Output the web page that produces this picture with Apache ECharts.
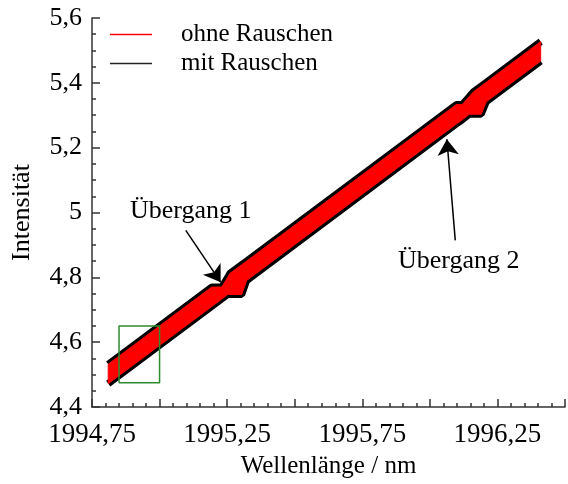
<!DOCTYPE html>
<html>
<head>
<meta charset="utf-8">
<script src="https://cdn.jsdelivr.net/npm/echarts@6/dist/echarts.min.js"></script>
<style>
  html, body { margin: 0; padding: 0; background: #fff; }
  #chart { width: 568px; height: 484px; }
</style>
</head>
<body>
<div id="chart"></div>
<script>
// Wavelength (nm) at the corners of the signal envelope
const wavelength = [1994.81, 1995.193, 1995.230, 1995.252, 1995.260, 1995.304, 1995.322,
                    1996.098, 1996.120, 1996.146, 1996.161, 1996.190, 1996.209, 1996.41];
// Upper and lower envelope of the signal (intensity)
const upperEdge = [4.532, 4.770, 4.770, 4.800, 4.812, 4.839, 4.850,
                   5.333, 5.333, 5.358, 5.372, 5.390, 5.402, 5.527];
const lowerEdge = [4.472, 4.710, 4.733, 4.747, 4.747, 4.747, 4.790,
                   5.273, 5.286, 5.303, 5.303, 5.303, 5.342, 5.467];

// Highlighted region (green frame)
const boxWavelength = [1994.85, 1995.0, 1995.0, 1994.85, 1994.85];
const boxIntensity  = [4.475, 4.475, 4.65, 4.65, 4.475];

// Annotations: text and arrow start/end in data units
const transitionNames = ['Übergang 1', 'Übergang 2'];
const arrowFrom = [[1995.097, 4.945], [1996.094, 4.914]];
const arrowTo   = [[1995.226, 4.785], [1996.063, 5.226]];

// Labelled x ticks
const xLabelValues = [1994.75, 1995.25, 1995.75, 1996.25];

const seriesNames = ['ohne Rauschen', 'mit Rauschen'];

const FONT = 'Liberation Serif';
const AXIS_COLOR = '#333';

const lowerPts = wavelength.map((x, i) => [x, lowerEdge[i]]);
const upperPts = wavelength.map((x, i) => [x, upperEdge[i]]);
const boxPts = boxWavelength.map((x, i) => [x, boxIntensity[i]]);

const chart = echarts.init(document.getElementById('chart'), null, { renderer: 'canvas' });

const axisCommon = {
  type: 'value',
  axisLine: { show: true, lineStyle: { color: AXIS_COLOR, width: 1.5 } },
  axisTick: { show: true, inside: true, length: 8, lineStyle: { color: AXIS_COLOR, width: 1.5 } },
  minorTick: { show: true, length: 4, lineStyle: { color: AXIS_COLOR, width: 1.5 } },
  splitLine: { show: false },
  nameLocation: 'middle',
  nameTextStyle: { fontFamily: FONT, fontSize: 25, color: '#000' }
};

// Filled envelope between the upper and lower edge
function renderBand(params, api) {
  const pts = upperPts.map(p => api.coord(p))
    .concat(lowerPts.slice().reverse().map(p => api.coord(p)));
  return {
    type: 'polygon',
    shape: { points: pts },
    style: { fill: '#ff0000', stroke: '#ff0000', lineWidth: 1 }
  };
}

chart.setOption({
  animation: false,
  backgroundColor: '#fff',
  grid: { left: 92, right: 1, top: 18, bottom: 74 },
  legend: {
    data: seriesNames.map(n => ({ name: n })),
    orient: 'vertical',
    left: 105,
    top: 17,
    itemWidth: 42,
    itemHeight: 1.5,
    itemGap: 4,
    icon: 'rect',
    textStyle: { fontFamily: FONT, fontSize: 25, color: '#000', padding: [0, 0, 0, 24] }
  },
  xAxis: Object.assign({}, axisCommon, {
    min: 1994.75,
    max: 1996.5,
    interval: 0.25,
    minorTick: Object.assign({}, axisCommon.minorTick, { splitNumber: 5 }),
    name: 'Wellenlänge / nm',
    nameGap: 47,
    axisLabel: {
      fontFamily: FONT, fontSize: 27, color: '#000', margin: 14,
      formatter: v => xLabelValues.some(t => Math.abs(t - v) < 1e-6) ? v.toFixed(2).replace('.', ',') : ''
    }
  }),
  yAxis: Object.assign({}, axisCommon, {
    min: 4.4,
    max: 5.6,
    interval: 0.2,
    minorTick: Object.assign({}, axisCommon.minorTick, { splitNumber: 4 }),
    name: 'Intensität',
    nameGap: 57,
    nameTextStyle: { fontFamily: FONT, fontSize: 26, color: '#000' },
    axisLabel: {
      fontFamily: FONT, fontSize: 26, color: '#000', margin: 10,
      formatter: v => String(Math.round(v * 10) / 10).replace('.', ',')
    }
  }),
  series: [
    {
      name: 'mit Rauschen', type: 'line', data: lowerPts, symbol: 'none',
      lineStyle: { color: '#000', width: 7 }, itemStyle: { color: '#222' }, z: 2
    },
    {
      name: 'mit Rauschen', type: 'line', data: upperPts, symbol: 'none',
      lineStyle: { color: '#000', width: 7 }, itemStyle: { color: '#222' }, z: 2
    },
    {
      name: 'ohne Rauschen', type: 'custom', data: [lowerPts[0]],
      itemStyle: { color: '#ff0000' },
      renderItem: renderBand, z: 3
    },
    {
      name: 'frame', type: 'line', data: boxPts, symbol: 'none',
      lineStyle: { color: '#2e8b2e', width: 1.5 }, z: 5,
      markLine: {
        silent: true,
        symbol: ['none', 'arrow'],
        symbolSize: 16,
        label: { show: false },
        lineStyle: { color: '#000', width: 1.5, type: 'solid' },
        data: arrowFrom.map((p, i) => [{ coord: p }, { coord: arrowTo[i] }])
      }
    }
  ],
  graphic: [
    {
      type: 'text', left: 130, top: 198,
      style: { text: transitionNames[0], fontFamily: FONT, fontSize: 26, fill: '#000' }
    },
    {
      type: 'text', left: 398, top: 248,
      style: { text: transitionNames[1], fontFamily: FONT, fontSize: 26, fill: '#000' }
    }
  ]
});
</script>
</body>
</html>
